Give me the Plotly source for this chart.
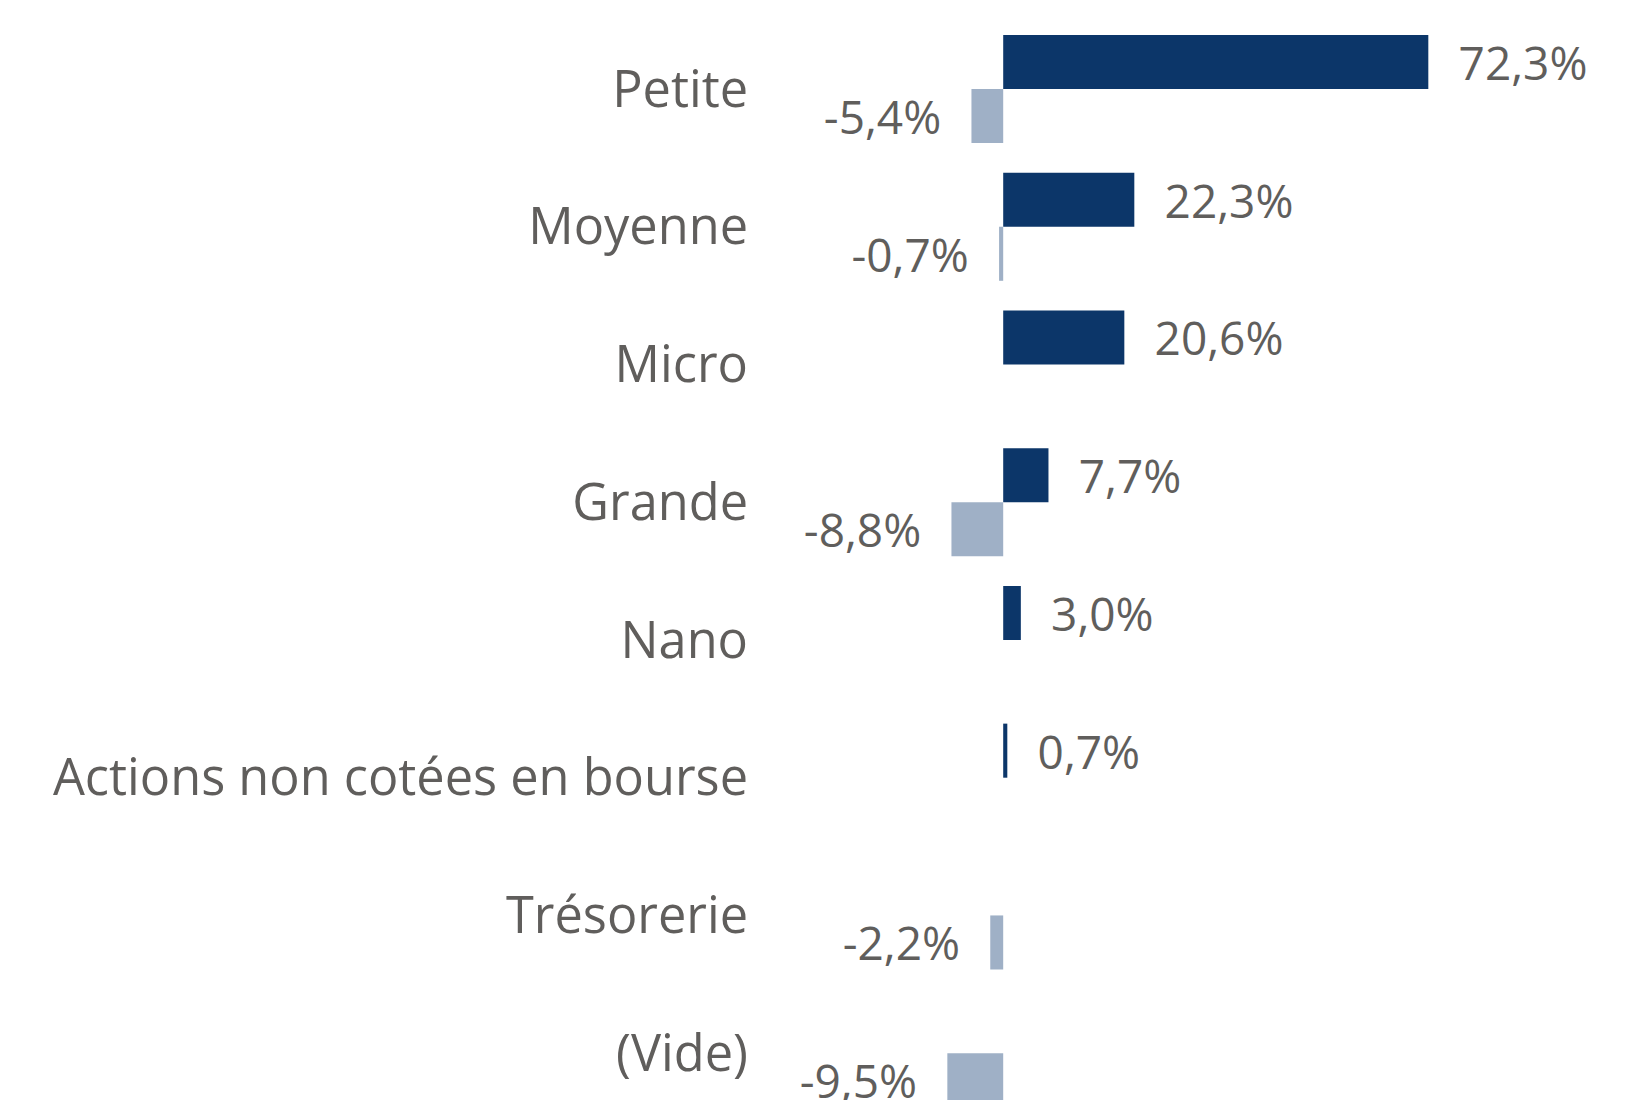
import plotly.graph_objects as go

categories = ["Petite", "Moyenne", "Micro", "Grande", "Nano",
              "Actions non cotées en bourse", "Trésorerie", "(Vide)"]
positive = [72.3, 22.3, 20.6, 7.7, 3.0, 0.7, None, None]
negative = [-5.4, -0.7, None, -8.8, None, None, -2.2, -9.5]

TEXT = "#605E5C"
DARK = "#0C3669"
LIGHT = "#9FB0C6"
FONT = "Open Sans"

fig = go.Figure()
fig.add_trace(go.Bar(
    y=categories, x=positive, orientation="h", name="Hausse",
    marker=dict(color=DARK, line=dict(width=0)),
    texttemplate="\u00a0\u2004%{x:.1f}%", textposition="outside",
    textfont=dict(color=TEXT, size=46, family=FONT),
    constraintext="none", cliponaxis=False,
))
fig.add_trace(go.Bar(
    y=categories, x=negative, orientation="h", name="Baisse",
    marker=dict(color=LIGHT, line=dict(width=0)),
    texttemplate="%{x:.1f}%\u2004\u00a0", textposition="outside",
    textfont=dict(color=TEXT, size=46, family=FONT),
    constraintext="none", cliponaxis=False,
))

fig.update_layout(
    width=1629, height=1100,
    margin=dict(l=760, r=0, t=0, b=0),
    barmode="group", bargap=0.215, bargroupgap=0,
    separators=", ",
    showlegend=False,
    paper_bgcolor="white", plot_bgcolor="white",
    font=dict(family=FONT, color=TEXT),
    xaxis=dict(range=[-40.0, 107.79], visible=False, fixedrange=True),
    yaxis=dict(type="category", range=[7.398, -0.588], showgrid=False,
               zeroline=False, showline=False, ticks="",
               ticklabelstandoff=19,
               tickfont=dict(size=50.5, color=TEXT, family=FONT)),
)

fig.write_html("out.html")
